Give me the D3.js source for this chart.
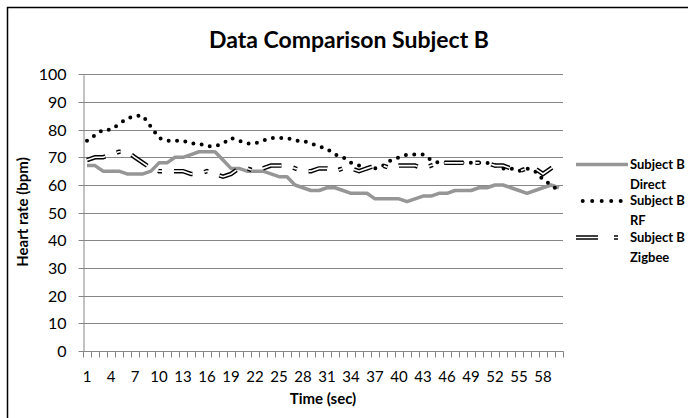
<!DOCTYPE html>
<html>
<head>
<meta charset="utf-8">
<script src="https://cdn.jsdelivr.net/npm/d3@7"></script>
<style>
  body { margin: 0; background: #fff; }
  text { font-family: Lato, "Open Sans", sans-serif; fill: #000; }
</style>
</head>
<body>
<div id="chart"></div>
<script>
const width = 688;
const height = 418;

// data
const times = [1,2,3,4,5,6,7,8,9,10,11,12,13,14,15,16,17,18,19,20,
  21,22,23,24,25,26,27,28,29,30,31,32,33,34,35,36,37,38,39,40,
  41,42,43,44,45,46,47,48,49,50,51,52,53,54,55,56,57,58,59,60];

const direct = [67,67,65,65,65,64,64,64,65,68, 68,70,70,71,72,72,72,69,66,66,
  65,65,65,64,63,63,60,59,58,58, 59,59,58,57,57,57,55,55,55,55,
  54,55,56,56,57,57,58,58,58,59, 59,60,60,59,58,57,58,59,60,59];

const rf = [76,78,80,80,82,84,85,85,81,77, 76,76,76,75,75,74,74,75,77,76,
  75,75,76,77,77,77,76,76,75,74, 73,71,70,68,67,66,66,67,69,70,
  71,71,71,69,68,68,68,68,68,68, 68,67,66,66,65,66,65,62,60,58];

const zigbee = [69,70,70,71,72,72,70,68,66,65, 65,65,65,64,64,65,64,63,64,66,
  66,65,66,67,67,67,66,65,65,66, 66,65,66,66,65,66,67,67,66,67,
  67,67,66,67,68,68,68,68,68,68, 68,67,67,66,65,66,66,64,66,68];

const yTicks = [0,10,20,30,40,50,60,70,80,90,100];
const xTickLabels = [1,4,7,10,13,16,19,22,25,28,31,34,37,40,43,46,49,52,55,58];

const seriesNames = ["Direct", "RF", "Zigbee"];

const svg = d3.select("#chart")
  .append("svg")
  .attr("width", width)
  .attr("height", height);

svg.append("rect")
  .attr("width", width)
  .attr("height", height)
  .attr("fill", "#fff");

// chart border
svg.append("rect")
  .attr("x", 7.5)
  .attr("y", 7.5)
  .attr("width", 700)
  .attr("height", 430)
  .attr("fill", "none")
  .attr("stroke", "#000")
  .attr("stroke-width", 1.5);

const x = d3.scaleBand().domain(times).range([83, 563]);
const y = d3.scaleLinear().domain([0, 100]).range([351, 74.3]);
const cx = d => x(d) + x.bandwidth() / 2;

const gridColor = "#868686";

// gridlines
svg.append("g")
  .selectAll("line")
  .data(yTicks.filter(d => d > 0))
  .enter()
  .append("line")
  .attr("x1", 83)
  .attr("x2", 563)
  .attr("y1", d => Math.round(y(d)) + 0.5)
  .attr("y2", d => Math.round(y(d)) + 0.5)
  .attr("stroke", gridColor)
  .attr("stroke-width", 1);

// y axis
const yAxis = svg.append("g")
  .attr("transform", "translate(83.5,0.5)")
  .call(d3.axisLeft(y).tickValues(yTicks).tickSize(5).tickPadding(12).tickSizeOuter(0));
yAxis.selectAll("path, line").attr("stroke", gridColor);
yAxis.selectAll("text")
  .style("font-size", "16px")
  .style("font-family", "Lato");
yAxis.selectAll(".tick").attr("transform", d => `translate(0,${Math.round(y(d))})`);

// x axis: ticks between categories, labels every third
const xAxisY = Math.round(y(0)) + 0.5;
svg.append("line")
  .attr("x1", 83)
  .attr("x2", 563.5)
  .attr("y1", xAxisY)
  .attr("y2", xAxisY)
  .attr("stroke", gridColor);

svg.append("g")
  .selectAll("line")
  .data(times.concat(["end"]))
  .enter()
  .append("line")
  .attr("x1", d => Math.round(d === "end" ? 563 : x(d)) + 0.5)
  .attr("x2", d => Math.round(d === "end" ? 563 : x(d)) + 0.5)
  .attr("y1", xAxisY)
  .attr("y2", xAxisY + 6)
  .attr("stroke", gridColor);

svg.append("g")
  .selectAll("text")
  .data(xTickLabels)
  .enter()
  .append("text")
  .attr("x", d => cx(d))
  .attr("y", 382)
  .attr("text-anchor", "middle")
  .style("font-size", "15px")
  .text(d => d);

// lines
const line = d3.line()
  .x((d, i) => cx(times[i]))
  .y(d => y(d));

const directColor = "#969696";

svg.append("path")
  .datum(direct)
  .attr("d", line)
  .attr("fill", "none")
  .attr("stroke", directColor)
  .attr("stroke-width", 3.5)
  .attr("stroke-linejoin", "round");

svg.append("path")
  .datum(rf)
  .attr("d", line)
  .attr("fill", "none")
  .attr("stroke", "#000")
  .attr("stroke-width", 4)
  .attr("stroke-linecap", "round")
  .attr("stroke-dasharray", "0 8.4");

const zigDash = "19 12 4 12";

function doubleLine(sel) {
  sel.append("path")
    .attr("fill", "none")
    .attr("stroke", "#000")
    .attr("stroke-width", 4.5)
    .attr("stroke-dasharray", zigDash);
  sel.append("path")
    .attr("fill", "none")
    .attr("stroke", "#fff")
    .attr("stroke-width", 1.6)
    .attr("stroke-dasharray", zigDash);
}

const zig = svg.append("g");
doubleLine(zig);
zig.selectAll("path").attr("d", line(zigbee));

// title
svg.append("text")
  .attr("x", 349)
  .attr("y", 48)
  .attr("text-anchor", "middle")
  .style("font-size", "23px")
  .style("font-weight", "bold")
  .text("Data Comparison Subject B");

// axis titles
svg.append("text")
  .attr("transform", "translate(28,212) rotate(-90)")
  .attr("text-anchor", "middle")
  .style("font-size", "15px")
  .style("font-weight", "bold")
  .text("Heart rate (bpm)");

svg.append("text")
  .attr("x", 323)
  .attr("y", 404)
  .attr("text-anchor", "middle")
  .style("font-size", "15px")
  .style("font-weight", "bold")
  .text("Time (sec)");

// legend
const legendY = [164.5, 201, 237.5];
const legend = svg.append("g");

legend.append("line")
  .attr("x1", 576).attr("x2", 628)
  .attr("y1", legendY[0]).attr("y2", legendY[0])
  .attr("stroke", directColor)
  .attr("stroke-width", 3.5);

legend.append("line")
  .attr("x1", 582.7).attr("x2", 622)
  .attr("y1", legendY[1]).attr("y2", legendY[1])
  .attr("stroke", "#000")
  .attr("stroke-width", 4)
  .attr("stroke-linecap", "round")
  .attr("stroke-dasharray", "0 9.5");

const lz = legend.append("g");
doubleLine(lz);
lz.selectAll("path")
  .attr("d", `M576,${legendY[2]}H620`)
  .attr("stroke-dasharray", "22 16 4 30");

seriesNames.forEach((name, i) => {
  const t = legend.append("text")
    .attr("x", 630)
    .attr("y", legendY[i] + 4)
    .style("font-size", "13px")
    .style("font-weight", "bold");
  t.append("tspan").attr("x", 630).text("Subject B");
  t.append("tspan").attr("x", 630).attr("dy", 20).text(name);
});
</script>
</body>
</html>
